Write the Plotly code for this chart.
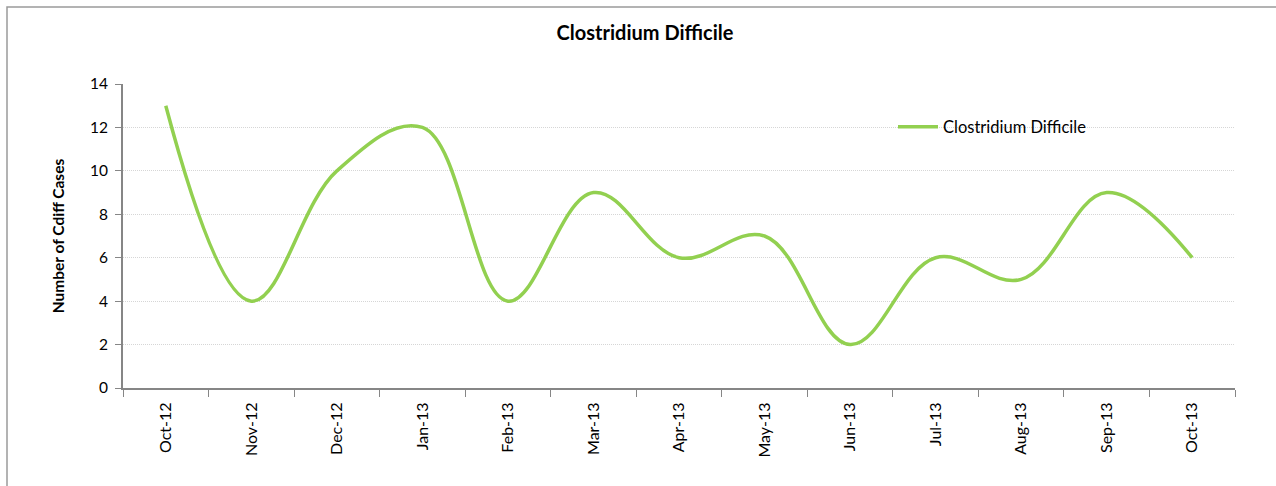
import plotly.graph_objects as go

months = ["Oct-12", "Nov-12", "Dec-12", "Jan-13", "Feb-13", "Mar-13", "Apr-13",
          "May-13", "Jun-13", "Jul-13", "Aug-13", "Sep-13", "Oct-13"]
cases = [13, 4, 10, 12, 4, 9, 6, 7, 2, 6, 5, 9, 6]
series_name = "Clostridium Difficile"

FONT = "Lato, Calibri, sans-serif"

fig = go.Figure()
fig.add_trace(go.Scatter(
    x=months, y=cases, name=series_name, mode="lines",
    line=dict(color="#92D050", width=3.5, shape="spline", smoothing=1.1),
    showlegend=True,
))

L, R, T, B = 123, 41, 84, 98
W, H = 1276, 486
pw, ph = W - L - R, H - T - B

fig.update_layout(
    width=W, height=H,
    margin=dict(l=L, r=R, t=T, b=B),
    paper_bgcolor="white", plot_bgcolor="white",
    font=dict(family=FONT, size=14, color="#000000"),
    title=dict(text="<b>Clostridium Difficile</b>", x=(645 - L) / pw, xref="paper",
               xanchor="center", y=1 - 33 / H, yanchor="middle",
               font=dict(size=20, family=FONT)),
    showlegend=True,
    legend=dict(x=(893 - L) / pw, y=(H - B - 127) / ph, xanchor="left", yanchor="middle",
                bgcolor="rgba(0,0,0,0)", font=dict(size=16.5, family=FONT),
                itemwidth=40, tracegroupgap=0),
    xaxis=dict(
        type="category", showline=True, linecolor="#868686", linewidth=2,
        ticks="outside", tickson="boundaries", ticklen=7, tickcolor="#868686", tickwidth=1,
        tickangle=-90, showgrid=False, tickfont=dict(size=16), ticklabelstandoff=6,
        range=[-0.5, len(months) - 0.5],
    ),
    yaxis=dict(
        range=[0, 14], dtick=2, showline=True, linecolor="#868686", linewidth=2,
        ticks="outside", ticklen=6, tickcolor="#868686", tickwidth=1,
        showgrid=True, gridcolor="#d6d6d6", griddash="1px,1px", gridwidth=1,
        zeroline=False, tickfont=dict(size=15.5), ticklabelstandoff=4,
        title=dict(text="<b>Number of Cdiff Cases</b>", font=dict(size=15.5), standoff=21),
    ),
    shapes=[dict(type="rect", xref="paper", yref="paper",
                 x0=(7 - L) / pw, x1=(W + 20 - L) / pw,
                 y0=-(B + 20) / ph, y1=(H - B - 7) / ph,
                 line=dict(color="#9a9a9a", width=1.5), fillcolor="rgba(0,0,0,0)",
                 layer="below")],
)

fig.write_html("out.html")
